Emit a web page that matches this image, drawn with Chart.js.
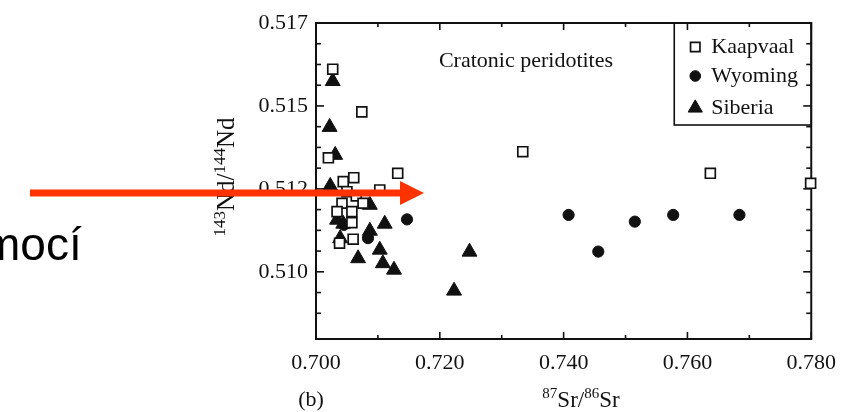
<!DOCTYPE html>
<html>
<head>
<meta charset="utf-8">
<script src="https://cdn.jsdelivr.net/npm/chart.js@4.4.1/dist/chart.umd.min.js"></script>
<style>
html,body{margin:0;padding:0;background:#fff;}
#wrap{position:relative;width:847px;height:412px;overflow:hidden;}
</style>
</head>
<body>
<div id="wrap"><canvas id="c" width="847" height="412"></canvas></div>
<script>
/* Sr-Nd isotopes of cratonic peridotites, panel (b) */

// y values are in axis units: 0 = tick "0.510", 1 = "0.512", 2 = "0.515", 3 = "0.517"
const xTickLabels = ['0.700','0.720','0.740','0.760','0.780'];
const yTickLabels = ['0.510','0.512','0.515','0.517'];

const seriesNames = ['Kaapvaal','Wyoming','Siberia'];

const kaapvaalX = [0.7027,0.7074,0.7020,0.7132,0.7061,0.7044,0.7050,0.7065,0.7103,0.7042,0.7076,0.7034,0.7058,0.7058,0.7060,0.7038,0.7334,0.7637,0.7799];
const kaapvaalY = [2.443,1.929,1.375,1.188,1.135,1.087,0.966,0.915,0.987,0.827,0.827,0.726,0.726,0.593,0.393,0.345,1.448,1.188,1.067];

const wyomingX = [0.7147,0.7084,0.7045,0.7408,0.7456,0.7515,0.7577,0.7684];
const wyomingY = [0.632,0.406,0.566,0.686,0.244,0.605,0.686,0.686];

const siberiaX = [0.7027,0.7022,0.7031,0.7023,0.7087,0.7034,0.7044,0.7039,0.7087,0.7111,0.7103,0.7068,0.7108,0.7126,0.7223,0.7248];
const siberiaY = [2.298,1.745,1.408,1.035,0.806,0.626,0.578,0.403,0.493,0.578,0.265,0.162,0.102,0.024,-0.229,0.241];

const SERIF = '"Liberation Serif","DejaVu Serif",serif';
const INK = '#111';

function pts(xs, ys){ return xs.map((x,i)=>({x, y: ys[i]})); }

function drawSup(ctx, parts, cx, cy, size){
  // parts: [text, isSuperscript]
  const small = Math.round(size*0.66);
  let w = 0;
  parts.forEach(([t,sup])=>{ ctx.font = `${sup?small:size}px ${SERIF}`; w += ctx.measureText(t).width; });
  let x = cx - w/2;
  const base = cy + size*0.33;
  ctx.textAlign = 'left'; ctx.textBaseline = 'alphabetic';
  parts.forEach(([t,sup])=>{
    ctx.font = `${sup?small:size}px ${SERIF}`;
    ctx.fillText(t, x, sup ? base - size*0.38 : base);
    x += ctx.measureText(t).width;
  });
}

function line(ctx, x1,y1,x2,y2){ ctx.beginPath(); ctx.moveTo(x1,y1); ctx.lineTo(x2,y2); ctx.stroke(); }

// frame + inward ticks on all four sides, from the scales' own ticks
const framePlugin = {
  id: 'frame',
  beforeDatasetsDraw(chart){
    const {ctx, chartArea:{left,right,top,bottom}} = chart;
    const xs = chart.scales.x, ys = chart.scales.y;
    ctx.save();
    ctx.strokeStyle = INK;
    ctx.lineWidth = 1.6;
    xs.ticks.forEach(t=>{
      const p = xs.getPixelForValue(t.value);
      const len = t.label ? 7 : 4;
      line(ctx, p, bottom, p, bottom-len);
      line(ctx, p, top, p, top+len);
    });
    ys.ticks.forEach(t=>{
      const p = ys.getPixelForValue(t.value);
      const len = t.label ? 8 : 5;
      line(ctx, left, p, left+len, p);
      line(ctx, right, p, right-len, p);
    });
    ctx.lineWidth = 2;
    ctx.strokeRect(left, top, right-left, bottom-top);
    ctx.restore();
  }
};

const decoPlugin = {
  id: 'deco',
  afterDraw(chart){
    const {ctx, chartArea:{left,right,top,bottom}} = chart;
    ctx.save();
    ctx.fillStyle = INK;

    // inner caption
    ctx.font = `22px ${SERIF}`;
    ctx.textAlign = 'center'; ctx.textBaseline = 'middle';
    ctx.fillText('Cratonic peridotites', 526, 61);

    // legend box
    const lx = right - 137, lh = 102;
    ctx.lineWidth = 1.6; ctx.strokeStyle = INK;
    ctx.strokeRect(lx, top, right-lx, lh);
    const rows = [24, 53, 85];
    chart.data.datasets.forEach((ds,i)=>{
      const y = top + rows[i];
      ctx.fillStyle = ds.backgroundColor; ctx.strokeStyle = ds.borderColor;
      ctx.lineWidth = ds.borderWidth;
      Chart.helpers.drawPoint(ctx, {pointStyle: ds.pointStyle, radius: ds.pointRadius*0.95, rotation: 0, borderWidth: ds.borderWidth}, lx+21, y);
      ctx.fillStyle = INK;
      ctx.font = `22px ${SERIF}`;
      ctx.textAlign = 'left'; ctx.textBaseline = 'middle';
      ctx.fillText(ds.label, lx+37, y);
    });

    // axis titles
    ctx.fillStyle = INK;
    drawSup(ctx, [['87',true],['Sr/',false],['86',true],['Sr',false]], 581, 399, 23);
    ctx.save();
    ctx.translate(226, 177);
    ctx.rotate(-Math.PI/2);
    drawSup(ctx, [['143',true],['Nd/',false],['144',true],['Nd',false]], 0, 0, 25);
    ctx.restore();
    ctx.font = `22px ${SERIF}`;
    ctx.textAlign = 'center'; ctx.textBaseline = 'middle';
    ctx.fillText('(b)', 311, 400);

    // slide leftovers: text and red arrow
    ctx.font = '46px "Liberation Sans", Arial, sans-serif';
    ctx.textAlign = 'left'; ctx.textBaseline = 'alphabetic';
    ctx.fillStyle = '#000';
    ctx.fillText('mocí', -18, 260);

    ctx.fillStyle = '#ff3300';
    ctx.fillRect(30, 189.5, 371, 7);
    ctx.beginPath();
    ctx.moveTo(400, 181); ctx.lineTo(424, 193); ctx.lineTo(400, 205); ctx.closePath();
    ctx.fill();
    ctx.restore();
  }
};

const datasets = [
  { label: seriesNames[0], data: pts(kaapvaalX, kaapvaalY), pointStyle: 'rect', pointRadius: 7,
    backgroundColor: '#fff', borderColor: INK, borderWidth: 1.7, clip: false },
  { label: seriesNames[1], data: pts(wyomingX, wyomingY), pointStyle: 'circle', pointRadius: 5.6,
    backgroundColor: INK, borderColor: INK, borderWidth: 1, clip: false },
  { label: seriesNames[2], data: pts(siberiaX, siberiaY), pointStyle: 'triangle', pointRadius: 8.6,
    backgroundColor: INK, borderColor: INK, borderWidth: 1, clip: false },
];

new Chart(document.getElementById('c'), {
  type: 'scatter',
  data: { datasets },
  options: {
    responsive: false,
    animation: false,
    events: [],
    layout: { padding: { left: 206, top: 23, right: 31, bottom: 0 } },
    plugins: { legend: { display: false }, tooltip: { enabled: false } },
    scales: {
      x: {
        type: 'linear', min: 0.700, max: 0.780,
        grid: { display: false, drawTicks: false }, border: { display: false },
        afterFit: s => { s.height = 73; },
        ticks: {
          stepSize: 0.01, autoSkip: false, maxRotation: 0, padding: 11,
          color: INK, font: { family: SERIF, size: 22 },
          callback: v => { const t = Number(v).toFixed(3); return xTickLabels.includes(t) ? t : ''; }
        }
      },
      y: {
        type: 'linear', min: -0.81, max: 3,
        grid: { display: false, drawTicks: false }, border: { display: false },
        afterFit: s => { s.width = 110; },
        ticks: {
          stepSize: 0.25, autoSkip: false, padding: 8,
          color: INK, font: { family: SERIF, size: 22 },
          callback: v => { const r = Math.round(v); return Math.abs(v-r) < 1e-6 && yTickLabels[r] ? yTickLabels[r] : ''; }
        }
      }
    }
  },
  plugins: [framePlugin, decoPlugin]
});
</script>
</body>
</html>
